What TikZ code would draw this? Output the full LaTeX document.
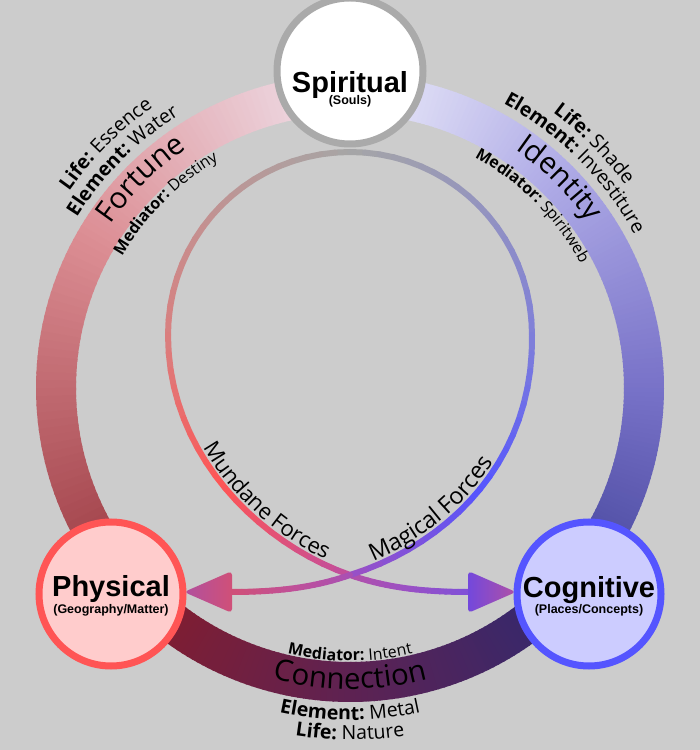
\documentclass[tikz,border=0pt]{standalone}
\usepackage{fontspec}
\usepackage{tikz}
\usetikzlibrary{calc,decorations.text}
\newfontfamily\arcofont{Open Sans}
\newfontfamily\mundofont{Liberation Sans}
\definecolor{gris}{HTML}{CCCCCC}
\definecolor{plata}{HTML}{AAAAAA}
\definecolor{plomo}{HTML}{A6A6A6}
\definecolor{rojo}{HTML}{FF5555}
\definecolor{rosa}{HTML}{FFCCCC}
\definecolor{azul}{HTML}{5555FF}
\definecolor{lila}{HTML}{CCCCFF}
\definecolor{fa}{HTML}{F0E4EE}
\definecolor{fb}{HTML}{DC8E94}
\definecolor{fc}{HTML}{9A3840}
\definecolor{ca}{HTML}{8C1C26}
\definecolor{cb}{HTML}{5E2252}
\definecolor{cc}{HTML}{2A2A74}
\definecolor{ia}{HTML}{EEEEFA}
\definecolor{ib}{HTML}{AEAAE6}
\definecolor{ic}{HTML}{7872C8}
\definecolor{id}{HTML}{44449A}
\definecolor{pa}{HTML}{BE9494}
\definecolor{pb}{HTML}{D88080}
\definecolor{pc}{HTML}{C04E9E}
\definecolor{pd}{HTML}{B450A8}
\definecolor{pe}{HTML}{9A50C4}
\definecolor{pf}{HTML}{8050D8}
\definecolor{ma}{HTML}{9494BE}
\definecolor{mb}{HTML}{8080D8}
\definecolor{mc}{HTML}{9A50C4}
\definecolor{md}{HTML}{A850B4}
\definecolor{me}{HTML}{C05098}
\definecolor{mf}{HTML}{D05078}
\newcommand\etiq{\arcofont\bfseries\fontsize{19.5}{20}\selectfont}
\newcommand\valor{\arcofont\mdseries\fontsize{19.5}{20}\selectfont}
\newcommand\etiqm{\arcofont\bfseries\fontsize{16}{17}\selectfont}
\newcommand\valorm{\arcofont\mdseries\fontsize{16}{17}\selectfont}
\newcommand\reino{\arcofont\mdseries\fontsize{29.5}{30}\selectfont}
\newcommand\mundanas{\arcofont\mdseries\fontsize{22}{23}\selectfont}
\newcommand\magicas{\arcofont\mdseries\fontsize{23.5}{24}\selectfont}
\newcommand\anillo[4]{%
  \foreach \k in {0,...,47}{%
    \pgfmathsetmacro\angA{#1+(#2-#1)*\k/48}%
    \pgfmathsetmacro\angB{#1+(#2-#1)*(\k+1.3)/48}%
    \pgfmathsetmacro\pc{100*(\k+0.5)/48}%
    \draw[banda,draw=#4!\pc!#3] (centro) ++(\angA:294) arc[start angle=\angA,end angle=\angB,radius=294];
  }}
\newcommand\tramo[7]{%
  \foreach \k in {0,...,19}{%
    \pgfmathsetmacro\tA{\k/20}%
    \pgfmathsetmacro\tB{(\k+1)/20}%
    \pgfmathsetmacro\pc{mod(\k,10)*10+5}%
    \ifnum\k<10 \colorlet{tinta}{#6!\pc!#5}\else\colorlet{tinta}{#7!\pc!#6}\fi
    \path (#1) .. controls (#2) and (#3) .. (#4) coordinate[pos=\tA] (pa) coordinate[pos=\tB] (pb);
    \draw[fuerza,draw=tinta] (pa) -- (pb);
  }}
\begin{document}
\begin{tikzpicture}[x=1pt,y=1pt,
    banda/.style={line width=40pt},
    fuerza/.style={line width=6pt,line cap=round},
    mundo/.style={circle,line width=7pt,minimum size=144pt,inner sep=0pt},
    nombre/.style={font=\mundofont\bfseries\fontsize{29}{30}\selectfont,anchor=base,inner sep=0pt},
    sub/.style={font=\mundofont\bfseries\fontsize{12.5}{13}\selectfont,anchor=base,inner sep=0pt},
    arco/.style={decorate,decoration={text along path,text align=center,text={#1}}}]
  \fill[gris] (0,0) rectangle (700,750);
  \useasboundingbox (0,0) rectangle (700,750);
  \coordinate (centro) at (350,362);
  \anillo{90}{150}{fa}{fb}
  \anillo{150}{222}{fb}{fc}
  \anillo{218}{270}{ca}{cb}
  \anillo{270}{322}{cb}{cc}
  \anillo{90}{45}{ia}{ib}
  \anillo{45}{0}{ib}{ic}
  \anillo{0}{-42}{ic}{id}

  \coordinate (cima) at (350,598);
  \coordinate (izq) at (168,415);
  \coordinate (der) at (532,415);
  \coordinate (cruce) at (350,175);
  \coordinate (puntaF) at (184,158);
  \coordinate (puntaC) at (516,158);
  \coordinate (baseF) at ($(puntaF)+(46,0)$);
  \coordinate (baseC) at ($(puntaC)+(-46,0)$);
  \tramo{cima}{249,598}{168,516}{izq}{plomo}{pa}{pb}
  \tramo{izq}{168,295}{260,206.5}{cruce}{pb}{rojo}{pc}
  \tramo{cruce}{390,161}{430,158}{baseC}{pd}{pe}{pf}
  \tramo{cima}{451,598}{532,516}{der}{plomo}{ma}{mb}
  \tramo{der}{534,292}{452,207}{cruce}{mb}{azul}{mc}
  \tramo{cruce}{310,161}{270,158}{baseF}{md}{me}{mf}
  \shade[rounded corners=4pt,left color=mf!60!pf,right color=mf] (puntaF) -- ($(puntaF)+(48,21)$) -- ($(puntaF)+(48,-21)$) -- cycle;
  \shade[rounded corners=4pt,left color=pf!90!blue,right color=pe!60!mf] (puntaC) -- ($(puntaC)+(-48,21)$) -- ($(puntaC)+(-48,-21)$) -- cycle;

  \path[decorate,decoration={text along path,text={|\mundanas|Mundane Forces},text align={right,right indent=29pt},raise=5pt}] (izq) .. controls (168,295) and (260,206.5) .. (cruce);
  \path[decorate,decoration={text along path,text={|\magicas|Magical Forces},text align={left,left indent=27pt},raise=5pt}] (cruce) .. controls (452,207) and (534,292) .. (der);

  \path[arco={|\etiq|Life: |\valor|Essence}] (centro) ++(178:343) arc[start angle=178,end angle=92,radius=343];
  \path[arco={|\etiq|Element: |\valor|Water}] (centro) ++(178:322) arc[start angle=178,end angle=92,radius=322];
  \path[arco={|\reino|Fortune}] (centro) ++(178:290) arc[start angle=178,end angle=92,radius=290];
  \path[arco={|\etiqm|Mediator: |\valorm|Destiny}] (centro) ++(178:263) arc[start angle=178,end angle=92,radius=263];
  \path[arco={|\etiq|Life: |\valor|Shade}] (centro) ++(88:342) arc[start angle=88,end angle=2,radius=342];
  \path[arco={|\etiq|Element: |\valor|Investiture}] (centro) ++(88:323) arc[start angle=88,end angle=2,radius=323];
  \path[arco={|\reino|Identity}] (centro) ++(88:290) arc[start angle=88,end angle=2,radius=290];
  \path[arco={|\etiqm|Mediator: |\valorm|Spiritweb}] (centro) ++(88:262) arc[start angle=88,end angle=2,radius=262];
  \path[arco={|\etiqm|Mediator: |\valorm|Intent}] (centro) ++(228:273) arc[start angle=228,end angle=312,radius=273];
  \path[arco={|\reino|Connection}] (centro) ++(228:301) arc[start angle=228,end angle=312,radius=301];
  \path[arco={|\etiq|Element: |\valor|Metal}] (centro) ++(228:332) arc[start angle=228,end angle=312,radius=332];
  \path[arco={|\etiq|Life: |\valor|Nature}] (centro) ++(228:352) arc[start angle=228,end angle=312,radius=352];

  \node[mundo,draw=plata,fill=white,minimum size=146pt] (espiritu) at (350,679) {};
  \node[mundo,draw=rojo,fill=rosa] (fisico) at (111,156) {};
  \node[mundo,draw=azul,fill=lila] (cognitivo) at (589,156) {};
  \node[nombre] (espnombre) at ([yshift=-21.5pt]espiritu.center) {Spiritual};
  \node[sub] (espsub) at ([yshift=-34pt]espiritu.center) {(Souls)};
  \node[nombre] (fisnombre) at ([yshift=-3pt]fisico.center) {Physical};
  \node[sub] (fissub) at ([yshift=-19.5pt]fisico.center) {(Geography/Matter)};
  \node[nombre] (cognombre) at ([yshift=-4pt]cognitivo.center) {Cognitive};
  \node[sub] (cogsub) at ([yshift=-20pt]cognitivo.center) {(Places/Concepts)};
\end{tikzpicture}
\end{document}
